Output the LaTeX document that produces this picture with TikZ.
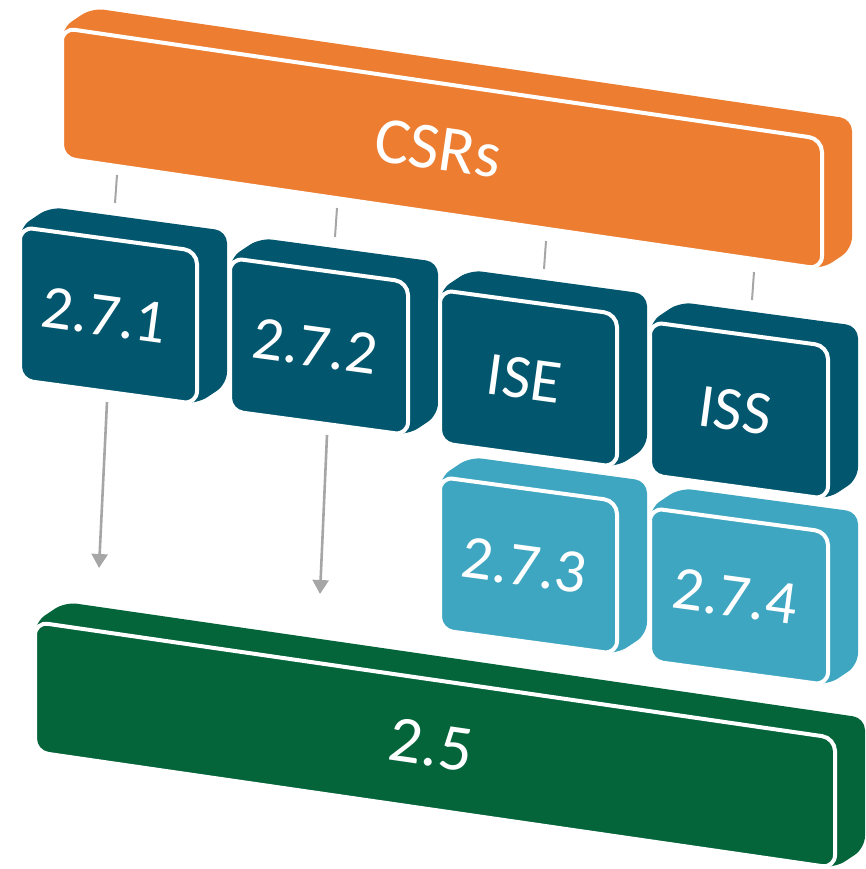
\documentclass[tikz,border=0pt]{standalone}
\usepackage{fontspec}
\setmainfont{Carlito}
\usetikzlibrary{arrows.meta}
\definecolor{csrorange}{HTML}{ED7D31}
\definecolor{darkteal}{HTML}{02566E}
\definecolor{lightteal}{HTML}{3FA6C2}
\definecolor{basegreen}{HTML}{04643A}
\definecolor{linkgray}{HTML}{A6A6A6}
\tikzset{
  slabtext/.style={text=white, inner sep=0pt, anchor=center},
  bigfont/.style={font=\fontsize{66}{66}\selectfont},
  smallfont/.style={font=\fontsize{62}{62}\selectfont},
  link/.style={draw=linkgray, line width=2pt},
  flow/.style={draw=linkgray, line width=2.6pt, -{Triangle[length=14pt,width=16pt]}},
}
% #1 name, #2 colour, #3 x, #4 y (front top-left), #5 width, #6 height, #7 drop, #8 text style, #9 text
\newcommand\slab[9]{%
  \fill[#2, rounded corners=12pt] (#3,#4) -- ++(30,-20) -- ++(#5,#7) -- ++(0,#6) -- ++(-30,20) -- ++(-#5,-#7) -- cycle;
  \filldraw[fill=#2, draw=white, line width=4pt, rounded corners=13pt] (#3,#4) -- ++(#5,#7) -- ++(0,#6) -- ++(-#5,-#7) -- cycle;
  \path (#3,#4) ++({#5/2-4},{(#7+#6)/2}) node[slabtext, #8] (#1) {#9};
}
\begin{document}
\begin{tikzpicture}[x=1pt, y=-1pt]
\useasboundingbox (0,0) rectangle (865,869);
% top bar
\slab{csr}{csrorange}{62}{28}{760}{130}{111}{bigfont, rotate=-8.3}{CSRs}
% connectors from CSRs
\coordinate (l1a) at (117,175); \coordinate (l1b) at (115,203);
\coordinate (l2a) at (337,208); \coordinate (l2b) at (335,237);
\coordinate (l3a) at (546,241); \coordinate (l3b) at (544,269);
\coordinate (l4a) at (754,272); \coordinate (l4b) at (752,300);
\draw[link] (l1a) -- (l1b);
\draw[link] (l2a) -- (l2b);
\draw[link] (l3a) -- (l3b);
\draw[link] (l4a) -- (l4b);
% base bar
\slab{base}{basegreen}{35}{622}{800}{130}{116}{bigfont, rotate=-8.3}{2.5}
% lower light blocks
\slab{b273}{lightteal}{440}{477}{177}{153}{24}{smallfont, rotate=-7.7}{2.7.3}
\slab{b274}{lightteal}{650}{508}{178}{153}{24}{smallfont, rotate=-7.7}{2.7.4}
% upper dark blocks
\slab{b271}{darkteal}{20}{227}{177}{153}{24}{smallfont, rotate=-7.7}{2.7.1}
\slab{b272}{darkteal}{230}{258}{178}{153}{24}{smallfont, rotate=-7.7}{2.7.2}
\slab{ise}{darkteal}{440}{290}{177}{153}{24}{smallfont, rotate=-7.7}{ISE}
\slab{iss}{darkteal}{650}{322}{178}{153}{24}{smallfont, rotate=-7.7}{ISS}
% arrows down to the base
\coordinate (a1a) at (107,402); \coordinate (a1b) at (99,568);
\coordinate (a2a) at (327,435); \coordinate (a2b) at (320,594);
\draw[flow] (a1a) -- (a1b);
\draw[flow] (a2a) -- (a2b);
\end{tikzpicture}
\end{document}
